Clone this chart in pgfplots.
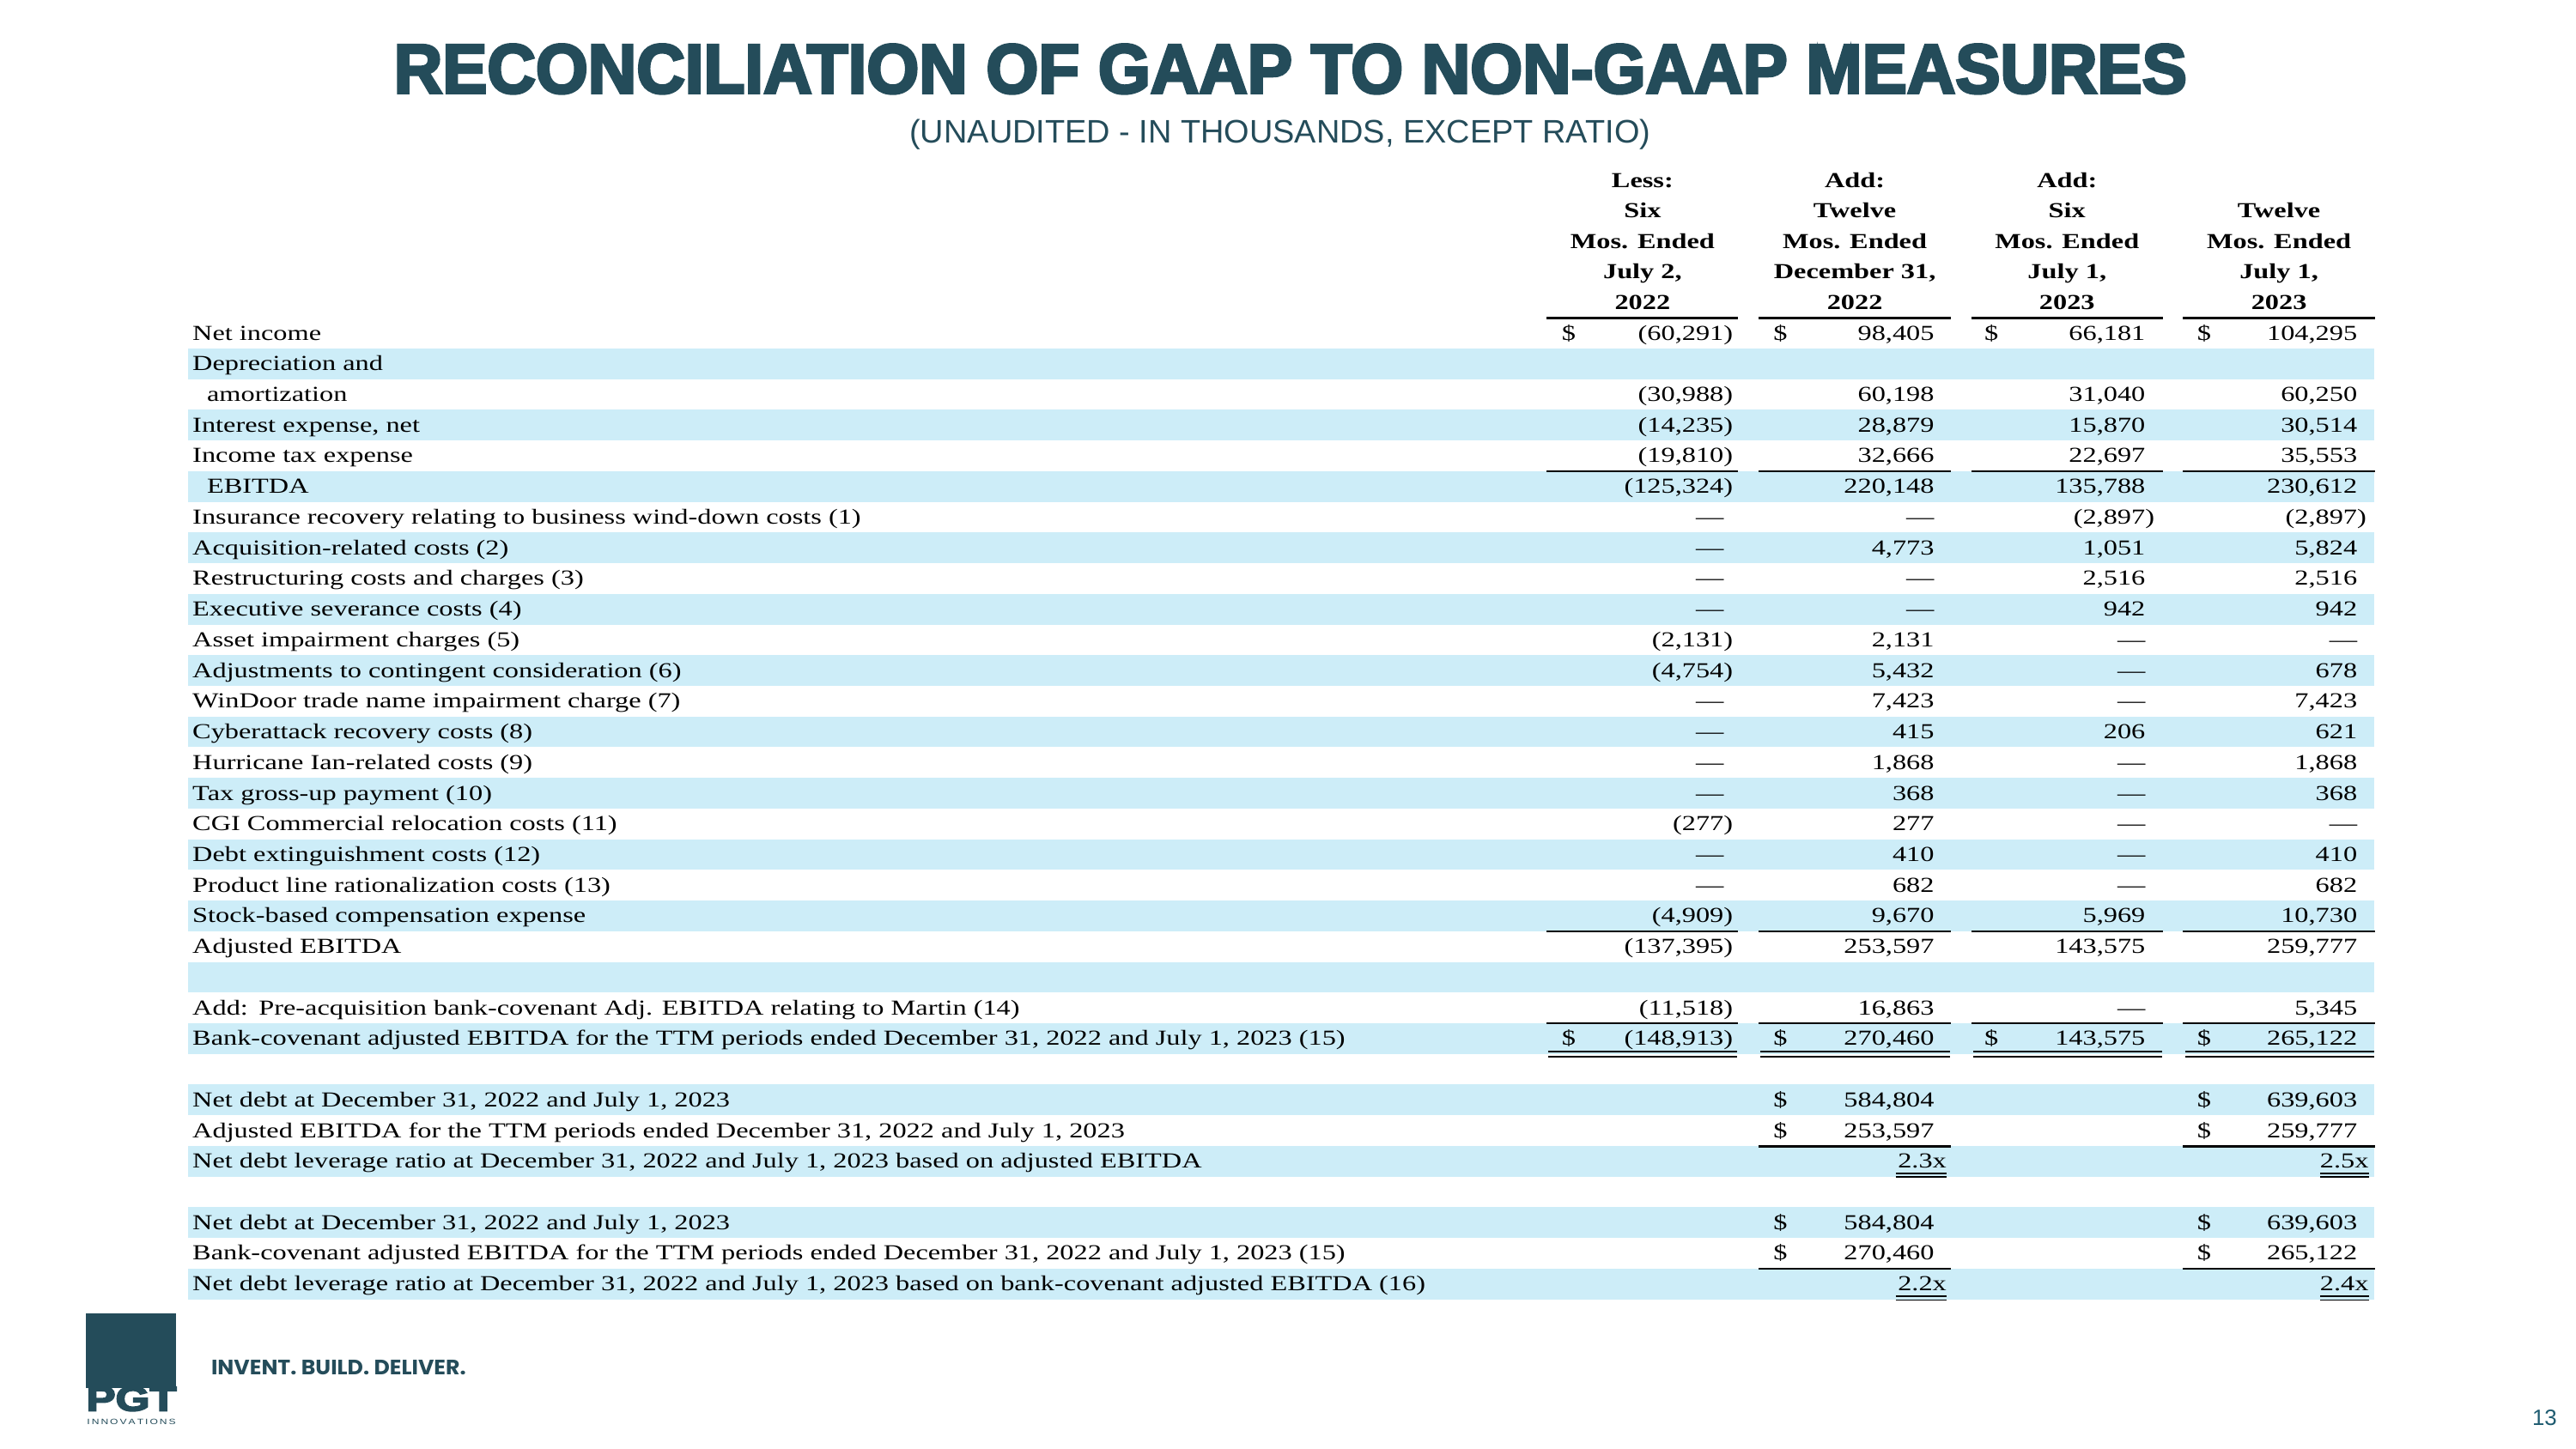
\documentclass[border=0pt]{standalone}
\usepackage{pgfplots}
\pgfplotsset{compat=1.18}
\usepackage{graphicx}
\usepackage{fontspec}
\setmainfont{Liberation Serif}
\newfontfamily\tabfont[FakeStretch=1.3]{Liberation Serif}
\newfontfamily\titlefont[BoldFeatures={FakeBold=4}]{Liberation Sans}
\newfontfamily\subfont{Liberation Sans}
\newfontfamily\popfont{Poppins}
\definecolor{pgtteal}{RGB}{36,76,90}
\definecolor{pgnum}{RGB}{30,91,112}
\definecolor{rowblue}{RGB}{205,237,248}
\pgfplotsset{
  celltext/.style={draw=none, mark=none, nodes near coords={\pgfplotspointmeta},
    point meta=explicit symbolic,
    every node near coord/.append style={inner sep=0pt, text=black,
      font=\tabfont\fontsize{13}{15}\selectfont, anchor=#1}},
  rule/.style={black, line width=#1, unbounded coords=jump, mark=none},
}
\begin{document}
\begin{tikzpicture}
\begin{axis}[scale only axis, width=1568pt, height=882pt,
  xmin=0, xmax=1568, ymin=0, ymax=882, y dir=reverse,
  hide axis, clip=false]
\fill[white] (rel axis cs:0,0) rectangle (rel axis cs:1,1);
% shaded rows
\pgfplotsinvokeforeach{1,3,5,7,9,11,13,15,17,19,21,23,25,27,29,31}{
  \fill[fill=rowblue] (axis cs:114.4,{193.5+18.675*#1}) rectangle (axis cs:1445,{193.5+18.675*(#1+1)});
}
% title
\node[anchor=base, inner sep=0pt, text=pgtteal] at (axis cs:785.5,56.6)
  {\resizebox{1091pt}{29.6pt}{\titlefont\bfseries RECONCILIATION OF GAAP TO NON-GAAP MEASURES}};
\node[anchor=base, inner sep=0pt, text=pgtteal] at (axis cs:779.2,87.1)
  {\resizebox{451pt}{!}{\subfont\fontsize{17}{20}\selectfont (UNAUDITED - IN THOUSANDS, EXCEPT RATIO)}};
% header
\addplot[celltext=base, every node near coord/.append style={font=\tabfont\bfseries\fontsize{13}{15}\selectfont}]
 table[col sep=semicolon, x=x, y=y, meta=t] {
x;y;t
999.8;114.0;Less:
999.8;132.6;Six
999.8;151.2;Mos. Ended
999.8;169.8;July 2,
999.8;188.4;2022
1129;114.0;Add:
1129;132.6;Twelve
1129;151.2;Mos. Ended
1129;169.8;December 31,
1129;188.4;2022
1258.2;114.0;Add:
1258.2;132.6;Six
1258.2;151.2;Mos. Ended
1258.2;169.8;July 1,
1258.2;188.4;2023
1387.2;132.6;Twelve
1387.2;151.2;Mos. Ended
1387.2;169.8;July 1,
1387.2;188.4;2023
};
% row labels
\addplot[celltext=base west] table[col sep=semicolon, x=x, y expr={207+18.675*\thisrow{r}}, meta=t] {
x;r;t
117;0;Net income
117;1;Depreciation and
125.8;2;amortization
117;3;Interest expense, net
117;4;Income tax expense
125.8;5;EBITDA
117;6;Insurance recovery relating to business wind-down costs (1)
117;7;Acquisition-related costs (2)
117;8;Restructuring costs and charges (3)
117;9;Executive severance costs (4)
117;10;Asset impairment charges (5)
117;11;Adjustments to contingent consideration (6)
117;12;WinDoor trade name impairment charge (7)
117;13;Cyberattack recovery costs (8)
117;14;Hurricane Ian-related costs (9)
117;15;Tax gross-up payment (10)
117;16;CGI Commercial relocation costs (11)
117;17;Debt extinguishment costs (12)
117;18;Product line rationalization costs (13)
117;19;Stock-based compensation expense
117;20;Adjusted EBITDA
117;22;Add:\enspace Pre-acquisition bank-covenant Adj. EBITDA relating to Martin (14)
117;23;Bank-covenant adjusted EBITDA for the TTM periods ended December 31, 2022 and July 1, 2023 (15)
117;25;Net debt at December 31, 2022 and July 1, 2023
117;26;Adjusted EBITDA for the TTM periods ended December 31, 2022 and July 1, 2023
117;27;Net debt leverage ratio at December 31, 2022 and July 1, 2023 based on adjusted EBITDA
117;29;Net debt at December 31, 2022 and July 1, 2023
117;30;Bank-covenant adjusted EBITDA for the TTM periods ended December 31, 2022 and July 1, 2023 (15)
117;31;Net debt leverage ratio at December 31, 2022 and July 1, 2023 based on bank-covenant adjusted EBITDA (16)
};
% dollar signs
\addplot[celltext=base] table[col sep=semicolon, x=x, y expr={207+18.675*\thisrow{r}}, meta=t] {
x;r;t
954.9;0;\$
1083.7;0;\$
1212.1;0;\$
1341.6;0;\$
954.9;23;\$
1083.7;23;\$
1212.1;23;\$
1341.6;23;\$
1083.7;25;\$
1341.6;25;\$
1083.7;26;\$
1341.6;26;\$
1083.7;29;\$
1341.6;29;\$
1083.7;30;\$
1341.6;30;\$
};
% values
\addplot[celltext=base east] table[col sep=semicolon, x=x, y expr={207+18.675*\thisrow{r}}, meta=t] {
x;r;t
1055;0;(60,291)
1177.5;0;98,405
1306;0;66,181
1435;0;104,295
1055;2;(30,988)
1177.5;2;60,198
1306;2;31,040
1435;2;60,250
1055;3;(14,235)
1177.5;3;28,879
1306;3;15,870
1435;3;30,514
1055;4;(19,810)
1177.5;4;32,666
1306;4;22,697
1435;4;35,553
1055;5;(125,324)
1177.5;5;220,148
1306;5;135,788
1435;5;230,612
1049.4;6;—
1177.5;6;—
1311.6;6;(2,897)
1440.6;6;(2,897)
1049.4;7;—
1177.5;7;4,773
1306;7;1,051
1435;7;5,824
1049.4;8;—
1177.5;8;—
1306;8;2,516
1435;8;2,516
1049.4;9;—
1177.5;9;—
1306;9;942
1435;9;942
1055;10;(2,131)
1177.5;10;2,131
1306;10;—
1435;10;—
1055;11;(4,754)
1177.5;11;5,432
1306;11;—
1435;11;678
1049.4;12;—
1177.5;12;7,423
1306;12;—
1435;12;7,423
1049.4;13;—
1177.5;13;415
1306;13;206
1435;13;621
1049.4;14;—
1177.5;14;1,868
1306;14;—
1435;14;1,868
1049.4;15;—
1177.5;15;368
1306;15;—
1435;15;368
1055;16;(277)
1177.5;16;277
1306;16;—
1435;16;—
1049.4;17;—
1177.5;17;410
1306;17;—
1435;17;410
1049.4;18;—
1177.5;18;682
1306;18;—
1435;18;682
1055;19;(4,909)
1177.5;19;9,670
1306;19;5,969
1435;19;10,730
1055;20;(137,395)
1177.5;20;253,597
1306;20;143,575
1435;20;259,777
1055;22;(11,518)
1177.5;22;16,863
1306;22;—
1435;22;5,345
1055;23;(148,913)
1177.5;23;270,460
1306;23;143,575
1435;23;265,122
1177.5;25;584,804
1435;25;639,603
1177.5;26;253,597
1435;26;259,777
1185;27;2.3x
1442;27;2.5x
1177.5;29;584,804
1435;29;639,603
1177.5;30;270,460
1435;30;265,122
1185;31;2.2x
1442;31;2.4x
};
% rules
\addplot[rule=1.7pt] coordinates {(941.5,193.5) (1058.1,193.5) (1000,nan) (1070.4,193.5) (1187.6,193.5) (1000,nan) (1199.9,193.5) (1316.4,193.5) (1000,nan) (1328.7,193.5) (1445.6,193.5)};
\addplot[rule=1.3pt] coordinates {(941.5,286.9) (1058.1,286.9) (1000,nan) (1070.4,286.9) (1187.6,286.9) (1000,nan) (1199.9,286.9) (1316.4,286.9) (1000,nan) (1328.7,286.9) (1445.6,286.9)};
\addplot[rule=1.3pt] coordinates {(941.5,567) (1058.1,567) (1000,nan) (1070.4,567) (1187.6,567) (1000,nan) (1199.9,567) (1316.4,567) (1000,nan) (1328.7,567) (1445.6,567)};
\addplot[rule=1.3pt] coordinates {(941.5,623) (1058.1,623) (1000,nan) (1070.4,623) (1187.6,623) (1000,nan) (1199.9,623) (1316.4,623) (1000,nan) (1328.7,623) (1445.6,623)};
\addplot[rule=1.1pt] coordinates {(942.5,640.4) (1057.5,640.4) (1000,nan) (1071.5,640.4) (1187,640.4) (1000,nan) (1201,640.4) (1316,640.4) (1000,nan) (1330,640.4) (1445,640.4)};
\addplot[rule=1.1pt] coordinates {(942.5,643.4) (1057.5,643.4) (1000,nan) (1071.5,643.4) (1187,643.4) (1000,nan) (1201,643.4) (1316,643.4) (1000,nan) (1330,643.4) (1445,643.4)};
\addplot[rule=1.3pt] coordinates {(1070.4,697.9) (1187.6,697.9) (1000,nan) (1328.7,697.9) (1445.6,697.9)};
\addplot[rule=1.3pt] coordinates {(1070.4,772.6) (1187.6,772.6) (1000,nan) (1328.7,772.6) (1445.6,772.6)};
\addplot[rule=0.9pt] coordinates {(1154,714.5) (1185,714.5) (1000,nan) (1412.3,714.5) (1442.1,714.5) (1000,nan) (1154,789.3) (1185,789.3) (1000,nan) (1412.3,789.3) (1442.1,789.3)};
\addplot[rule=0.9pt] coordinates {(1154,716.7) (1185,716.7) (1000,nan) (1412.3,716.7) (1442.1,716.7) (1000,nan) (1154,791.5) (1185,791.5) (1000,nan) (1412.3,791.5) (1442.1,791.5)};
% logo and footer
\fill[pgtteal] (axis cs:52.3,799.7) rectangle (axis cs:107.4,845);
\node[anchor=base west, inner sep=0pt, text=pgtteal] at (axis cs:52.3,859)
  {\resizebox{55pt}{14.8pt}{\titlefont\bfseries PGT}};
\node[anchor=base west, inner sep=0pt, text=pgtteal] at (axis cs:52.8,867.1)
  {\resizebox{54pt}{3.3pt}{\subfont I\,N\,N\,O\,V\,A\,T\,I\,O\,N\,S}};
\node[anchor=base west, inner sep=0pt, text=pgtteal] at (axis cs:128.4,837.3)
  {\resizebox{155pt}{8.9pt}{\popfont\bfseries INVENT. BUILD. DELIVER.}};
\node[anchor=base, inner sep=0pt, text=pgnum] at (axis cs:1548.9,868)
  {\subfont\fontsize{13.5}{16}\selectfont 13};
\end{axis}
\end{tikzpicture}
\end{document}
